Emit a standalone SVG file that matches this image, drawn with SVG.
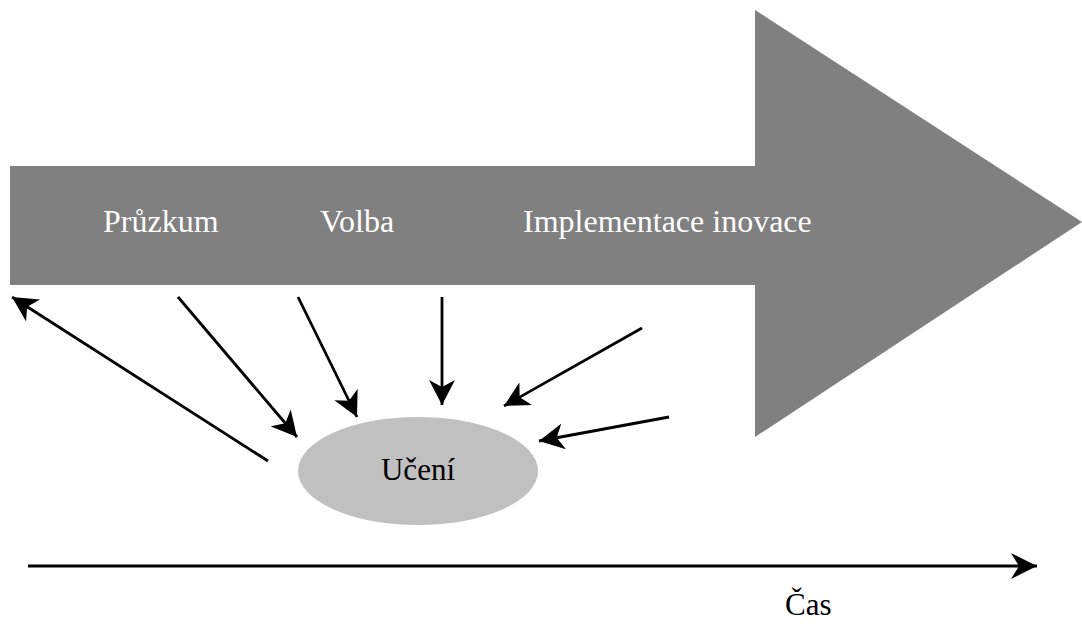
<svg xmlns="http://www.w3.org/2000/svg" width="1082" height="626" viewBox="0 0 1082 626">
<style>
  text { font-family: "Liberation Serif", "Times New Roman", serif; font-size: 31px; }
  .lbl { fill: #ffffff; font-size: 32px; }
  .dark { fill: #000000; }
  .conn { stroke: #000000; stroke-width: 2.8; fill: none; marker-end: url(#head); }
</style>
<defs>
  <marker id="head" markerUnits="userSpaceOnUse" viewBox="0 0 25 26" markerWidth="25" markerHeight="26" refX="25" refY="13" orient="auto">
    <path d="M25 13 L0 0 L7 13 L0 26 Z" fill="#000000"/>
  </marker>
  <marker id="headBig" markerUnits="userSpaceOnUse" viewBox="0 0 26 26" markerWidth="26" markerHeight="26" refX="26" refY="13" orient="auto">
    <path d="M26 13 L0 0 L8 13 L0 26 Z" fill="#000000"/>
  </marker>
</defs>
<rect width="1082" height="626" fill="#ffffff"/>
<g id="process-arrow">
  <polygon points="10,166 755,166 755,10 1082,222 755,437 755,285 10,285" fill="#808080"/>
  <text class="lbl" x="103" y="232">Průzkum</text>
  <text class="lbl" x="320" y="232">Volba</text>
  <text class="lbl" x="523" y="232">Implementace inovace</text>
</g>
<g id="learning">
  <ellipse cx="418" cy="471" rx="120" ry="54" fill="#C0C0C0"/>
  <text class="dark" x="418" y="480" text-anchor="middle">Učení</text>
</g>
<g id="time-axis">
  <line x1="28" y1="566" x2="1037" y2="566" stroke="#000000" stroke-width="2.8" marker-end="url(#headBig)"/>
  <text class="dark" x="785" y="615">Čas</text>
</g>
<g id="connectors">
  <line class="conn" x1="268" y1="461" x2="12" y2="297"/>
  <line class="conn" x1="178" y1="297" x2="297" y2="437"/>
  <line class="conn" x1="298" y1="297" x2="357" y2="417"/>
  <line class="conn" x1="442" y1="297" x2="442" y2="405"/>
  <line class="conn" x1="642" y1="328" x2="504" y2="406"/>
  <line class="conn" x1="669" y1="417" x2="539" y2="441"/>
</g>
</svg>
